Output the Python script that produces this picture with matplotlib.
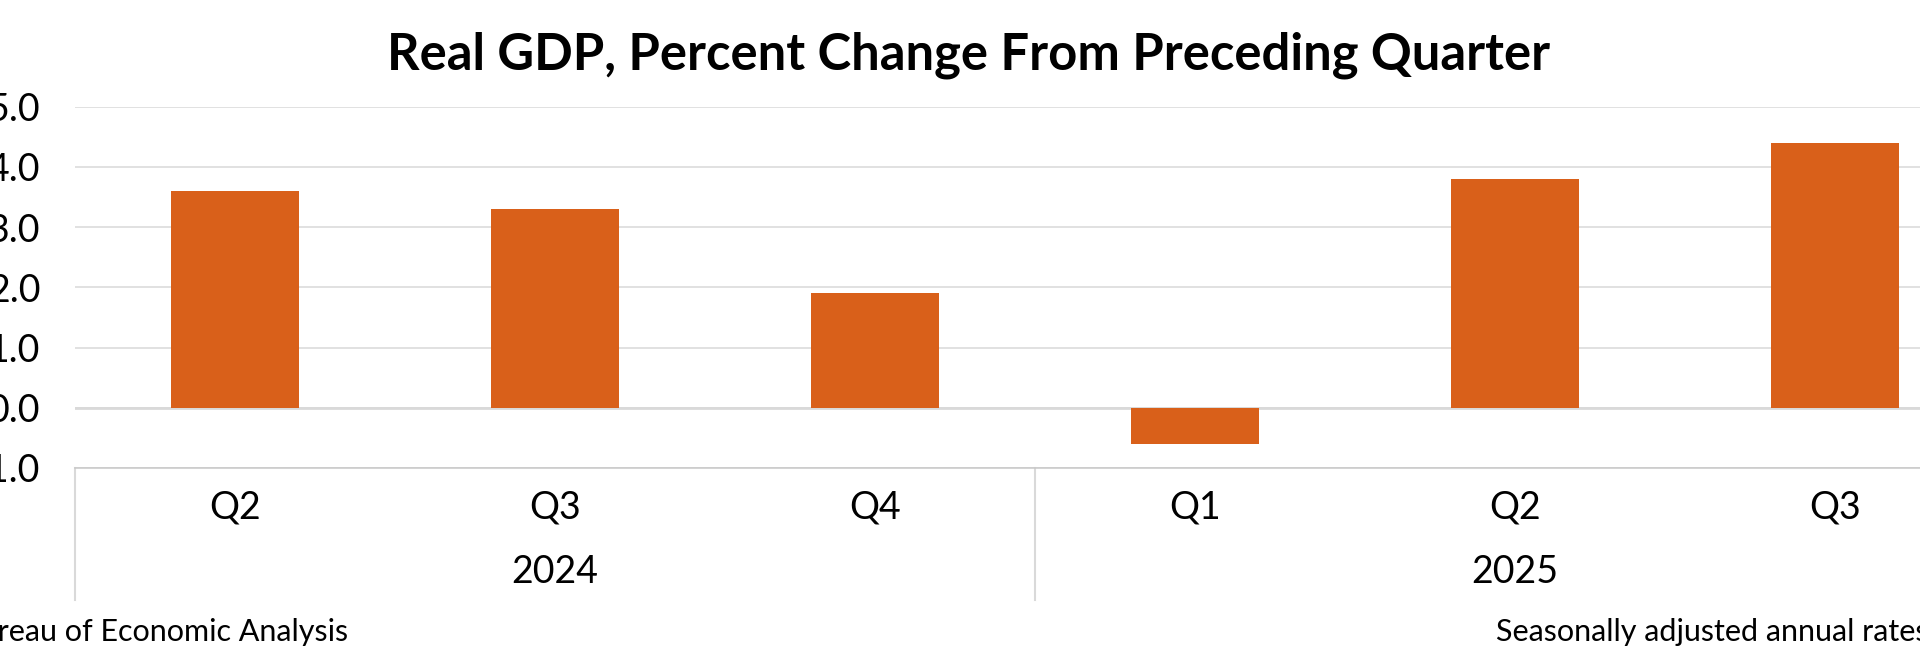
"""Real GDP percent change bar chart, multi-level category axis."""

import matplotlib
matplotlib.use("Agg")
import matplotlib.pyplot as plt
from matplotlib import ticker
from matplotlib.lines import Line2D
import matplotlib.transforms as mtransforms

quarters = ["Q2", "Q3", "Q4", "Q1", "Q2", "Q3"]
years = ["2024", "2025"]
year_spans = [(0, 2), (3, 5)]
gdp_change = [3.6, 3.3, 1.9, -0.6, 3.8, 4.4]
y_ticks = [-1.0, 0.0, 1.0, 2.0, 3.0, 4.0, 5.0]

BAR = "#D9601A"
GRID = "#D9D9D9"
FONT = "Lato"

W, H = 1920, 656
fig = plt.figure(figsize=(W / 100, H / 100), dpi=100)
fig.patch.set_facecolor("white")

ax = fig.add_axes([75 / W, 1 - 468 / H, 1920 / W, (468 - 106.5) / H])
x = list(range(len(quarters)))
ax.bar(x, gdp_change, width=0.4, color=BAR, zorder=3)
ax.set_xlim(-0.5, len(quarters) - 0.5)
ax.set_ylim(y_ticks[0], y_ticks[-1])
ax.set_yticks(y_ticks)
ax.yaxis.set_major_formatter(ticker.FormatStrFormatter("%.1f"))
ax.tick_params(axis="y", length=0, pad=25, labelsize=27, labelcolor="black")
for lab in ax.get_yticklabels():
    lab.set_fontfamily(FONT)
ax.set_xticks([])
ax.grid(axis="y", color=GRID, linewidth=1.1, zorder=0)
ax.axhline(0, color=GRID, linewidth=2.0, zorder=2)
ax.spines[["top", "right", "left"]].set_visible(False)
ax.spines["bottom"].set_color("#C8C8C8")
ax.spines["bottom"].set_linewidth(1.1)

# multi-level category axis
trans = mtransforms.blended_transform_factory(ax.transData, fig.transFigure)
for i, q in enumerate(quarters):
    ax.text(i, 1 - 507 / H, q, transform=trans, ha="center", va="center",
            fontsize=27, family=FONT, clip_on=False)
for (a, b), yr in zip(year_spans, years):
    ax.text((a + b) / 2, 1 - 572 / H, yr, transform=trans, ha="center", va="center",
            fontsize=27, family=FONT, clip_on=False)
for xs in [-0.5, 2.5, 5.5]:
    ax.add_line(Line2D([xs, xs], [1 - 468 / H, 1 - 600 / H], transform=trans,
                       color=GRID, linewidth=1.5, clip_on=False))

fig.text(969 / W, 1 - 55 / H, "Real GDP, Percent Change From Preceding Quarter",
         ha="center", va="center", fontsize=36.5, fontweight="bold", family=FONT)
fig.text(348 / W, 1 - 632 / H, "Bureau of Economic Analysis", ha="right", va="center",
         fontsize=22, family=FONT)
fig.text(1496 / W, 1 - 632 / H, "Seasonally adjusted annual rates", ha="left", va="center",
         fontsize=22, family=FONT)

fig.savefig("out.png", dpi=100, facecolor=fig.get_facecolor())
